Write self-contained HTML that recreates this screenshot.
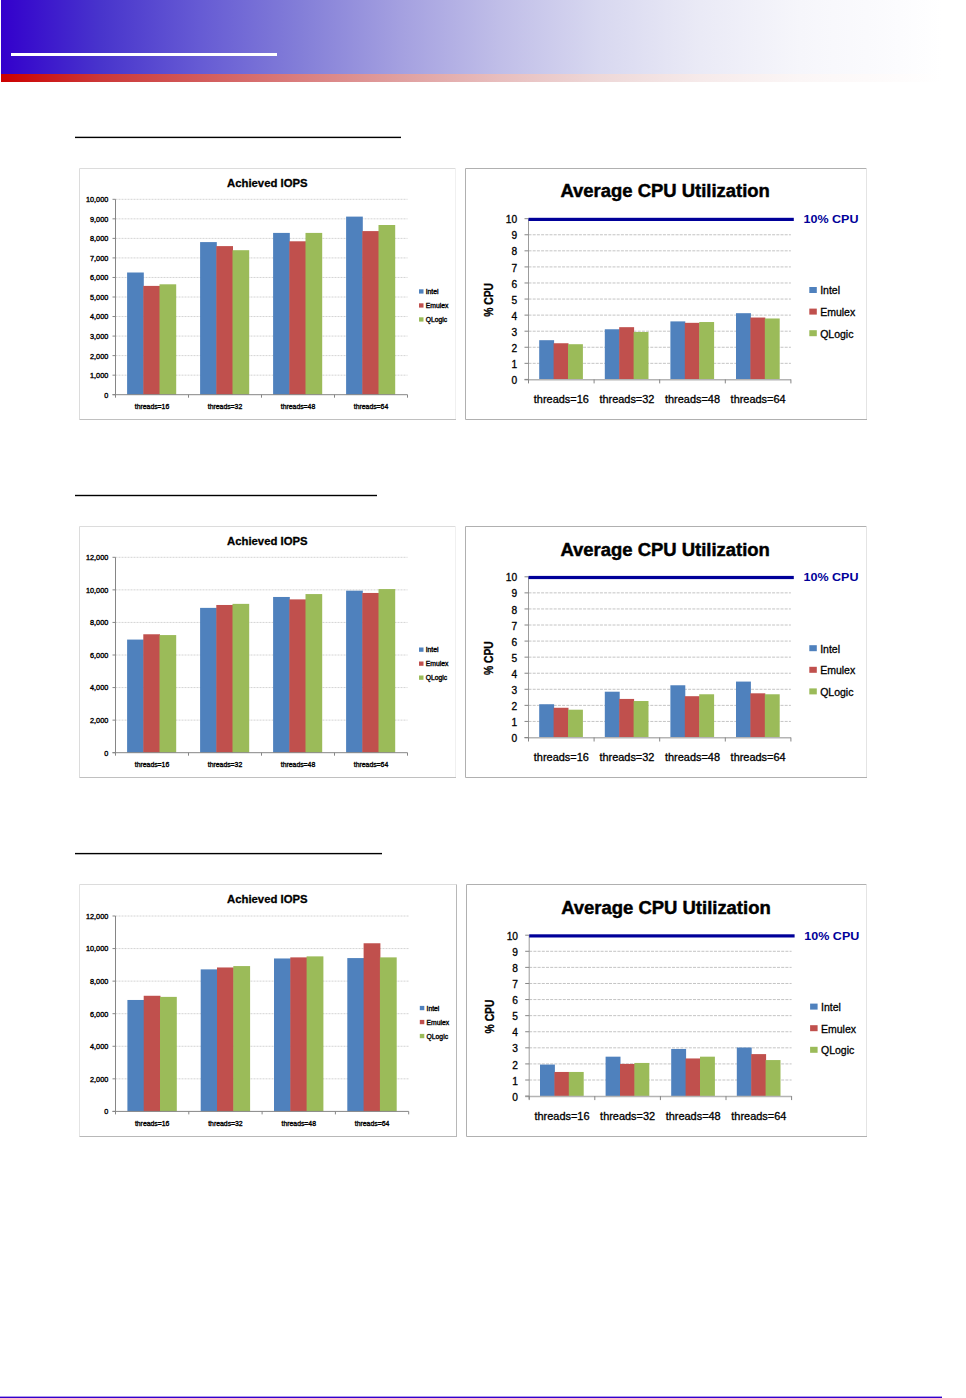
<!DOCTYPE html>
<html><head><meta charset="utf-8"><title>page</title>
<style>
html,body{margin:0;padding:0;background:#fff;}
body{width:966px;height:1398px;position:relative;overflow:hidden;font-family:"Liberation Sans",sans-serif;}
#hdr{position:absolute;left:1px;top:0;width:942px;height:74px;background:linear-gradient(to right,rgb(51,0,204) 0px,rgb(72,52,204) 99px,rgb(102,91,212) 199px,rgb(131,126,216) 299px,rgb(164,160,224) 399px,rgb(192,190,232) 499px,rgb(216,216,240) 599px,rgb(234,234,246) 699px,rgb(246,246,251) 799px,rgb(252,252,254) 899px,rgb(255,255,255) 941px);}
#hdr2{position:absolute;left:1px;top:74px;width:942px;height:8px;background:linear-gradient(to right,rgb(204,0,0) 0px,rgb(204,56,56) 99px,rgb(210,91,91) 199px,rgb(218,126,126) 299px,rgb(224,160,160) 399px,rgb(232,190,190) 499px,rgb(238,216,216) 599px,rgb(246,234,234) 699px,rgb(251,246,246) 799px,rgb(254,252,252) 899px,rgb(255,255,255) 941px);}
#wl{position:absolute;left:11px;top:53px;width:266px;height:3px;background:#fff;}
#foot{position:absolute;left:0;top:1396px;width:942px;height:1px;background:rgba(51,0,204,0.4);}
#foot2{position:absolute;left:0;top:1397px;width:942px;height:1px;background:#3300cc;}
svg{position:absolute;left:0;top:0;}
</style></head><body>
<div id="hdr"></div><div id="hdr2"></div><div id="wl"></div>
<svg width="966" height="1398" viewBox="0 0 966 1398">
<line x1="79.5" y1="168.5" x2="455.5" y2="168.5" stroke="#dcdcdc"/><line x1="79.5" y1="168.5" x2="79.5" y2="419.5" stroke="#dcdcdc"/><line x1="455.5" y1="168.5" x2="455.5" y2="419.5" stroke="#f0f0f0"/><line x1="79.5" y1="419.5" x2="456" y2="419.5" stroke="#c0c0c0"/>
<line x1="115.5" y1="375.16" x2="407.5" y2="375.16" stroke="#d4d4d4" stroke-width="1" stroke-dasharray="2 1"/>
<line x1="115.5" y1="355.62" x2="407.5" y2="355.62" stroke="#d4d4d4" stroke-width="1" stroke-dasharray="2 1"/>
<line x1="115.5" y1="336.08" x2="407.5" y2="336.08" stroke="#d4d4d4" stroke-width="1" stroke-dasharray="2 1"/>
<line x1="115.5" y1="316.54" x2="407.5" y2="316.54" stroke="#d4d4d4" stroke-width="1" stroke-dasharray="2 1"/>
<line x1="115.5" y1="297" x2="407.5" y2="297" stroke="#d4d4d4" stroke-width="1" stroke-dasharray="2 1"/>
<line x1="115.5" y1="277.46" x2="407.5" y2="277.46" stroke="#d4d4d4" stroke-width="1" stroke-dasharray="2 1"/>
<line x1="115.5" y1="257.92" x2="407.5" y2="257.92" stroke="#d4d4d4" stroke-width="1" stroke-dasharray="2 1"/>
<line x1="115.5" y1="238.38" x2="407.5" y2="238.38" stroke="#d4d4d4" stroke-width="1" stroke-dasharray="2 1"/>
<line x1="115.5" y1="218.84" x2="407.5" y2="218.84" stroke="#d4d4d4" stroke-width="1" stroke-dasharray="2 1"/>
<line x1="115.5" y1="199.3" x2="407.5" y2="199.3" stroke="#d4d4d4" stroke-width="1" stroke-dasharray="2 1"/>
<rect x="127.1" y="272.5" width="16.7" height="122.2" fill="#4f81bd"/>
<rect x="143.3" y="285.9" width="16.7" height="108.8" fill="#c0504d"/>
<rect x="159.5" y="284.3" width="16.7" height="110.4" fill="#9bbb59"/>
<rect x="200.1" y="242.09" width="16.7" height="152.61" fill="#4f81bd"/>
<rect x="216.3" y="246.1" width="16.7" height="148.6" fill="#c0504d"/>
<rect x="232.5" y="250.2" width="16.7" height="144.5" fill="#9bbb59"/>
<rect x="273.1" y="232.91" width="16.7" height="161.79" fill="#4f81bd"/>
<rect x="289.3" y="241.29" width="16.7" height="153.41" fill="#c0504d"/>
<rect x="305.5" y="232.91" width="16.7" height="161.79" fill="#9bbb59"/>
<rect x="346.1" y="216.61" width="16.7" height="178.09" fill="#4f81bd"/>
<rect x="362.3" y="231.09" width="16.7" height="163.61" fill="#c0504d"/>
<rect x="378.5" y="225" width="16.7" height="169.7" fill="#9bbb59"/>
<line x1="115.5" y1="199.3" x2="115.5" y2="394.7" stroke="#868686" stroke-width="1"/>
<line x1="112.5" y1="394.7" x2="407.5" y2="394.7" stroke="#868686" stroke-width="1"/>
<line x1="112.5" y1="394.7" x2="115.5" y2="394.7" stroke="#868686" stroke-width="1"/>
<text x="108.3" y="397.6" text-anchor="end" font-size="7.3" font-family="Liberation Sans, sans-serif" stroke="#000" stroke-width="0.35">0</text>
<line x1="112.5" y1="375.16" x2="115.5" y2="375.16" stroke="#868686" stroke-width="1"/>
<text x="108.3" y="378.06" text-anchor="end" font-size="7.3" font-family="Liberation Sans, sans-serif" stroke="#000" stroke-width="0.35">1,000</text>
<line x1="112.5" y1="355.62" x2="115.5" y2="355.62" stroke="#868686" stroke-width="1"/>
<text x="108.3" y="358.52" text-anchor="end" font-size="7.3" font-family="Liberation Sans, sans-serif" stroke="#000" stroke-width="0.35">2,000</text>
<line x1="112.5" y1="336.08" x2="115.5" y2="336.08" stroke="#868686" stroke-width="1"/>
<text x="108.3" y="338.98" text-anchor="end" font-size="7.3" font-family="Liberation Sans, sans-serif" stroke="#000" stroke-width="0.35">3,000</text>
<line x1="112.5" y1="316.54" x2="115.5" y2="316.54" stroke="#868686" stroke-width="1"/>
<text x="108.3" y="319.44" text-anchor="end" font-size="7.3" font-family="Liberation Sans, sans-serif" stroke="#000" stroke-width="0.35">4,000</text>
<line x1="112.5" y1="297" x2="115.5" y2="297" stroke="#868686" stroke-width="1"/>
<text x="108.3" y="299.9" text-anchor="end" font-size="7.3" font-family="Liberation Sans, sans-serif" stroke="#000" stroke-width="0.35">5,000</text>
<line x1="112.5" y1="277.46" x2="115.5" y2="277.46" stroke="#868686" stroke-width="1"/>
<text x="108.3" y="280.36" text-anchor="end" font-size="7.3" font-family="Liberation Sans, sans-serif" stroke="#000" stroke-width="0.35">6,000</text>
<line x1="112.5" y1="257.92" x2="115.5" y2="257.92" stroke="#868686" stroke-width="1"/>
<text x="108.3" y="260.82" text-anchor="end" font-size="7.3" font-family="Liberation Sans, sans-serif" stroke="#000" stroke-width="0.35">7,000</text>
<line x1="112.5" y1="238.38" x2="115.5" y2="238.38" stroke="#868686" stroke-width="1"/>
<text x="108.3" y="241.28" text-anchor="end" font-size="7.3" font-family="Liberation Sans, sans-serif" stroke="#000" stroke-width="0.35">8,000</text>
<line x1="112.5" y1="218.84" x2="115.5" y2="218.84" stroke="#868686" stroke-width="1"/>
<text x="108.3" y="221.74" text-anchor="end" font-size="7.3" font-family="Liberation Sans, sans-serif" stroke="#000" stroke-width="0.35">9,000</text>
<line x1="112.5" y1="199.3" x2="115.5" y2="199.3" stroke="#868686" stroke-width="1"/>
<text x="108.3" y="202.2" text-anchor="end" font-size="7.3" font-family="Liberation Sans, sans-serif" stroke="#000" stroke-width="0.35">10,000</text>
<line x1="115.5" y1="394.7" x2="115.5" y2="397.7" stroke="#868686" stroke-width="1"/>
<line x1="188.5" y1="394.7" x2="188.5" y2="397.7" stroke="#868686" stroke-width="1"/>
<line x1="261.5" y1="394.7" x2="261.5" y2="397.7" stroke="#868686" stroke-width="1"/>
<line x1="334.5" y1="394.7" x2="334.5" y2="397.7" stroke="#868686" stroke-width="1"/>
<line x1="407.5" y1="394.7" x2="407.5" y2="397.7" stroke="#868686" stroke-width="1"/>
<text x="152" y="409.2" text-anchor="middle" font-size="7.2" font-family="Liberation Sans, sans-serif" stroke="#000" stroke-width="0.35" textLength="34.5" lengthAdjust="spacingAndGlyphs">threads=16</text>
<text x="225" y="409.2" text-anchor="middle" font-size="7.2" font-family="Liberation Sans, sans-serif" stroke="#000" stroke-width="0.35" textLength="34.5" lengthAdjust="spacingAndGlyphs">threads=32</text>
<text x="298" y="409.2" text-anchor="middle" font-size="7.2" font-family="Liberation Sans, sans-serif" stroke="#000" stroke-width="0.35" textLength="34.5" lengthAdjust="spacingAndGlyphs">threads=48</text>
<text x="371" y="409.2" text-anchor="middle" font-size="7.2" font-family="Liberation Sans, sans-serif" stroke="#000" stroke-width="0.35" textLength="34.5" lengthAdjust="spacingAndGlyphs">threads=64</text>
<text x="267.3" y="186.5" text-anchor="middle" font-size="11.5" font-weight="bold" font-family="Liberation Sans, sans-serif" stroke="#000" stroke-width="0.3" textLength="80.5" lengthAdjust="spacingAndGlyphs">Achieved IOPS</text>
<rect x="419" y="289.3" width="4.5" height="4.3" fill="#4f81bd"/>
<text x="425.7" y="293.9" font-size="6.8" font-family="Liberation Sans, sans-serif" stroke="#000" stroke-width="0.35">Intel</text>
<rect x="419" y="303.3" width="4.5" height="4.3" fill="#c0504d"/>
<text x="425.7" y="307.9" font-size="6.8" font-family="Liberation Sans, sans-serif" stroke="#000" stroke-width="0.35">Emulex</text>
<rect x="419" y="317.3" width="4.5" height="4.3" fill="#9bbb59"/>
<text x="425.7" y="321.9" font-size="6.8" font-family="Liberation Sans, sans-serif" stroke="#000" stroke-width="0.35">QLogic</text>
<line x1="79.5" y1="526.5" x2="455.5" y2="526.5" stroke="#dcdcdc"/><line x1="79.5" y1="526.5" x2="79.5" y2="777.5" stroke="#dcdcdc"/><line x1="455.5" y1="526.5" x2="455.5" y2="777.5" stroke="#f0f0f0"/><line x1="79.5" y1="777.5" x2="456" y2="777.5" stroke="#c0c0c0"/>
<line x1="115.5" y1="720.13" x2="407.5" y2="720.13" stroke="#d4d4d4" stroke-width="1" stroke-dasharray="2 1"/>
<line x1="115.5" y1="687.57" x2="407.5" y2="687.57" stroke="#d4d4d4" stroke-width="1" stroke-dasharray="2 1"/>
<line x1="115.5" y1="655" x2="407.5" y2="655" stroke="#d4d4d4" stroke-width="1" stroke-dasharray="2 1"/>
<line x1="115.5" y1="622.43" x2="407.5" y2="622.43" stroke="#d4d4d4" stroke-width="1" stroke-dasharray="2 1"/>
<line x1="115.5" y1="589.87" x2="407.5" y2="589.87" stroke="#d4d4d4" stroke-width="1" stroke-dasharray="2 1"/>
<line x1="115.5" y1="557.3" x2="407.5" y2="557.3" stroke="#d4d4d4" stroke-width="1" stroke-dasharray="2 1"/>
<rect x="127.1" y="639.58" width="16.7" height="113.12" fill="#4f81bd"/>
<rect x="143.3" y="634.27" width="16.7" height="118.43" fill="#c0504d"/>
<rect x="159.5" y="635.07" width="16.7" height="117.63" fill="#9bbb59"/>
<rect x="200.1" y="607.88" width="16.7" height="144.82" fill="#4f81bd"/>
<rect x="216.3" y="604.98" width="16.7" height="147.72" fill="#c0504d"/>
<rect x="232.5" y="603.87" width="16.7" height="148.83" fill="#9bbb59"/>
<rect x="273.1" y="596.97" width="16.7" height="155.73" fill="#4f81bd"/>
<rect x="289.3" y="599.38" width="16.7" height="153.32" fill="#c0504d"/>
<rect x="305.5" y="594.07" width="16.7" height="158.63" fill="#9bbb59"/>
<rect x="346.1" y="590.66" width="16.7" height="162.04" fill="#4f81bd"/>
<rect x="362.3" y="592.96" width="16.7" height="159.74" fill="#c0504d"/>
<rect x="378.5" y="589.07" width="16.7" height="163.63" fill="#9bbb59"/>
<line x1="115.5" y1="557.3" x2="115.5" y2="752.7" stroke="#868686" stroke-width="1"/>
<line x1="112.5" y1="752.7" x2="407.5" y2="752.7" stroke="#868686" stroke-width="1"/>
<line x1="112.5" y1="752.7" x2="115.5" y2="752.7" stroke="#868686" stroke-width="1"/>
<text x="108.3" y="755.6" text-anchor="end" font-size="7.3" font-family="Liberation Sans, sans-serif" stroke="#000" stroke-width="0.35">0</text>
<line x1="112.5" y1="720.13" x2="115.5" y2="720.13" stroke="#868686" stroke-width="1"/>
<text x="108.3" y="723.03" text-anchor="end" font-size="7.3" font-family="Liberation Sans, sans-serif" stroke="#000" stroke-width="0.35">2,000</text>
<line x1="112.5" y1="687.57" x2="115.5" y2="687.57" stroke="#868686" stroke-width="1"/>
<text x="108.3" y="690.47" text-anchor="end" font-size="7.3" font-family="Liberation Sans, sans-serif" stroke="#000" stroke-width="0.35">4,000</text>
<line x1="112.5" y1="655" x2="115.5" y2="655" stroke="#868686" stroke-width="1"/>
<text x="108.3" y="657.9" text-anchor="end" font-size="7.3" font-family="Liberation Sans, sans-serif" stroke="#000" stroke-width="0.35">6,000</text>
<line x1="112.5" y1="622.43" x2="115.5" y2="622.43" stroke="#868686" stroke-width="1"/>
<text x="108.3" y="625.33" text-anchor="end" font-size="7.3" font-family="Liberation Sans, sans-serif" stroke="#000" stroke-width="0.35">8,000</text>
<line x1="112.5" y1="589.87" x2="115.5" y2="589.87" stroke="#868686" stroke-width="1"/>
<text x="108.3" y="592.77" text-anchor="end" font-size="7.3" font-family="Liberation Sans, sans-serif" stroke="#000" stroke-width="0.35">10,000</text>
<line x1="112.5" y1="557.3" x2="115.5" y2="557.3" stroke="#868686" stroke-width="1"/>
<text x="108.3" y="560.2" text-anchor="end" font-size="7.3" font-family="Liberation Sans, sans-serif" stroke="#000" stroke-width="0.35">12,000</text>
<line x1="115.5" y1="752.7" x2="115.5" y2="755.7" stroke="#868686" stroke-width="1"/>
<line x1="188.5" y1="752.7" x2="188.5" y2="755.7" stroke="#868686" stroke-width="1"/>
<line x1="261.5" y1="752.7" x2="261.5" y2="755.7" stroke="#868686" stroke-width="1"/>
<line x1="334.5" y1="752.7" x2="334.5" y2="755.7" stroke="#868686" stroke-width="1"/>
<line x1="407.5" y1="752.7" x2="407.5" y2="755.7" stroke="#868686" stroke-width="1"/>
<text x="152" y="767.2" text-anchor="middle" font-size="7.2" font-family="Liberation Sans, sans-serif" stroke="#000" stroke-width="0.35" textLength="34.5" lengthAdjust="spacingAndGlyphs">threads=16</text>
<text x="225" y="767.2" text-anchor="middle" font-size="7.2" font-family="Liberation Sans, sans-serif" stroke="#000" stroke-width="0.35" textLength="34.5" lengthAdjust="spacingAndGlyphs">threads=32</text>
<text x="298" y="767.2" text-anchor="middle" font-size="7.2" font-family="Liberation Sans, sans-serif" stroke="#000" stroke-width="0.35" textLength="34.5" lengthAdjust="spacingAndGlyphs">threads=48</text>
<text x="371" y="767.2" text-anchor="middle" font-size="7.2" font-family="Liberation Sans, sans-serif" stroke="#000" stroke-width="0.35" textLength="34.5" lengthAdjust="spacingAndGlyphs">threads=64</text>
<text x="267.3" y="544.7" text-anchor="middle" font-size="11.5" font-weight="bold" font-family="Liberation Sans, sans-serif" stroke="#000" stroke-width="0.3" textLength="80.5" lengthAdjust="spacingAndGlyphs">Achieved IOPS</text>
<rect x="419" y="647.5" width="4.5" height="4.3" fill="#4f81bd"/>
<text x="425.7" y="652.1" font-size="6.8" font-family="Liberation Sans, sans-serif" stroke="#000" stroke-width="0.35">Intel</text>
<rect x="419" y="661.5" width="4.5" height="4.3" fill="#c0504d"/>
<text x="425.7" y="666.1" font-size="6.8" font-family="Liberation Sans, sans-serif" stroke="#000" stroke-width="0.35">Emulex</text>
<rect x="419" y="675.5" width="4.5" height="4.3" fill="#9bbb59"/>
<text x="425.7" y="680.1" font-size="6.8" font-family="Liberation Sans, sans-serif" stroke="#000" stroke-width="0.35">QLogic</text>
<line x1="79.5" y1="884.5" x2="456.5" y2="884.5" stroke="#dcdcdc"/><line x1="79.5" y1="884.5" x2="79.5" y2="1136.5" stroke="#e4e4e4"/><line x1="456.5" y1="884.5" x2="456.5" y2="1136.5" stroke="#b8b8b8"/><line x1="79.5" y1="1136.5" x2="457" y2="1136.5" stroke="#b8b8b8"/>
<line x1="115.5" y1="1078.83" x2="408.7" y2="1078.83" stroke="#d4d4d4" stroke-width="1" stroke-dasharray="2 1"/>
<line x1="115.5" y1="1046.27" x2="408.7" y2="1046.27" stroke="#d4d4d4" stroke-width="1" stroke-dasharray="2 1"/>
<line x1="115.5" y1="1013.7" x2="408.7" y2="1013.7" stroke="#d4d4d4" stroke-width="1" stroke-dasharray="2 1"/>
<line x1="115.5" y1="981.13" x2="408.7" y2="981.13" stroke="#d4d4d4" stroke-width="1" stroke-dasharray="2 1"/>
<line x1="115.5" y1="948.57" x2="408.7" y2="948.57" stroke="#d4d4d4" stroke-width="1" stroke-dasharray="2 1"/>
<line x1="115.5" y1="916" x2="408.7" y2="916" stroke="#d4d4d4" stroke-width="1" stroke-dasharray="2 1"/>
<rect x="127.4" y="999.97" width="16.8" height="111.43" fill="#4f81bd"/>
<rect x="143.7" y="995.77" width="16.8" height="115.63" fill="#c0504d"/>
<rect x="160" y="996.88" width="16.8" height="114.52" fill="#9bbb59"/>
<rect x="200.7" y="969.38" width="16.8" height="142.02" fill="#4f81bd"/>
<rect x="217" y="967.47" width="16.8" height="143.93" fill="#c0504d"/>
<rect x="233.3" y="966.07" width="16.8" height="145.33" fill="#9bbb59"/>
<rect x="274" y="958.47" width="16.8" height="152.93" fill="#4f81bd"/>
<rect x="290.3" y="957.38" width="16.8" height="154.02" fill="#c0504d"/>
<rect x="306.6" y="956.37" width="16.8" height="155.03" fill="#9bbb59"/>
<rect x="347.3" y="958.08" width="16.8" height="153.32" fill="#4f81bd"/>
<rect x="363.6" y="943.26" width="16.8" height="168.14" fill="#c0504d"/>
<rect x="379.9" y="957.38" width="16.8" height="154.02" fill="#9bbb59"/>
<line x1="115.5" y1="916" x2="115.5" y2="1111.4" stroke="#868686" stroke-width="1"/>
<line x1="112.5" y1="1111.4" x2="408.7" y2="1111.4" stroke="#868686" stroke-width="1"/>
<line x1="112.5" y1="1111.4" x2="115.5" y2="1111.4" stroke="#868686" stroke-width="1"/>
<text x="108.3" y="1114.3" text-anchor="end" font-size="7.3" font-family="Liberation Sans, sans-serif" stroke="#000" stroke-width="0.35">0</text>
<line x1="112.5" y1="1078.83" x2="115.5" y2="1078.83" stroke="#868686" stroke-width="1"/>
<text x="108.3" y="1081.73" text-anchor="end" font-size="7.3" font-family="Liberation Sans, sans-serif" stroke="#000" stroke-width="0.35">2,000</text>
<line x1="112.5" y1="1046.27" x2="115.5" y2="1046.27" stroke="#868686" stroke-width="1"/>
<text x="108.3" y="1049.17" text-anchor="end" font-size="7.3" font-family="Liberation Sans, sans-serif" stroke="#000" stroke-width="0.35">4,000</text>
<line x1="112.5" y1="1013.7" x2="115.5" y2="1013.7" stroke="#868686" stroke-width="1"/>
<text x="108.3" y="1016.6" text-anchor="end" font-size="7.3" font-family="Liberation Sans, sans-serif" stroke="#000" stroke-width="0.35">6,000</text>
<line x1="112.5" y1="981.13" x2="115.5" y2="981.13" stroke="#868686" stroke-width="1"/>
<text x="108.3" y="984.03" text-anchor="end" font-size="7.3" font-family="Liberation Sans, sans-serif" stroke="#000" stroke-width="0.35">8,000</text>
<line x1="112.5" y1="948.57" x2="115.5" y2="948.57" stroke="#868686" stroke-width="1"/>
<text x="108.3" y="951.47" text-anchor="end" font-size="7.3" font-family="Liberation Sans, sans-serif" stroke="#000" stroke-width="0.35">10,000</text>
<line x1="112.5" y1="916" x2="115.5" y2="916" stroke="#868686" stroke-width="1"/>
<text x="108.3" y="918.9" text-anchor="end" font-size="7.3" font-family="Liberation Sans, sans-serif" stroke="#000" stroke-width="0.35">12,000</text>
<line x1="115.5" y1="1111.4" x2="115.5" y2="1114.4" stroke="#868686" stroke-width="1"/>
<line x1="188.8" y1="1111.4" x2="188.8" y2="1114.4" stroke="#868686" stroke-width="1"/>
<line x1="262.1" y1="1111.4" x2="262.1" y2="1114.4" stroke="#868686" stroke-width="1"/>
<line x1="335.4" y1="1111.4" x2="335.4" y2="1114.4" stroke="#868686" stroke-width="1"/>
<line x1="408.7" y1="1111.4" x2="408.7" y2="1114.4" stroke="#868686" stroke-width="1"/>
<text x="152.15" y="1125.9" text-anchor="middle" font-size="7.2" font-family="Liberation Sans, sans-serif" stroke="#000" stroke-width="0.35" textLength="34.5" lengthAdjust="spacingAndGlyphs">threads=16</text>
<text x="225.45" y="1125.9" text-anchor="middle" font-size="7.2" font-family="Liberation Sans, sans-serif" stroke="#000" stroke-width="0.35" textLength="34.5" lengthAdjust="spacingAndGlyphs">threads=32</text>
<text x="298.75" y="1125.9" text-anchor="middle" font-size="7.2" font-family="Liberation Sans, sans-serif" stroke="#000" stroke-width="0.35" textLength="34.5" lengthAdjust="spacingAndGlyphs">threads=48</text>
<text x="372.05" y="1125.9" text-anchor="middle" font-size="7.2" font-family="Liberation Sans, sans-serif" stroke="#000" stroke-width="0.35" textLength="34.5" lengthAdjust="spacingAndGlyphs">threads=64</text>
<text x="267.3" y="903.1" text-anchor="middle" font-size="11.5" font-weight="bold" font-family="Liberation Sans, sans-serif" stroke="#000" stroke-width="0.3" textLength="80.5" lengthAdjust="spacingAndGlyphs">Achieved IOPS</text>
<rect x="419.8" y="1005.9" width="4.5" height="4.3" fill="#4f81bd"/>
<text x="426.5" y="1010.5" font-size="6.8" font-family="Liberation Sans, sans-serif" stroke="#000" stroke-width="0.35">Intel</text>
<rect x="419.8" y="1019.9" width="4.5" height="4.3" fill="#c0504d"/>
<text x="426.5" y="1024.5" font-size="6.8" font-family="Liberation Sans, sans-serif" stroke="#000" stroke-width="0.35">Emulex</text>
<rect x="419.8" y="1033.9" width="4.5" height="4.3" fill="#9bbb59"/>
<text x="426.5" y="1038.5" font-size="6.8" font-family="Liberation Sans, sans-serif" stroke="#000" stroke-width="0.35">QLogic</text>
<line x1="465.5" y1="168.5" x2="866.5" y2="168.5" stroke="#b0b0b0"/><line x1="465.5" y1="168.5" x2="465.5" y2="419.5" stroke="#b0b0b0"/><line x1="866.5" y1="168.5" x2="866.5" y2="419.5" stroke="#e4e4e4"/><line x1="465.5" y1="419.5" x2="867" y2="419.5" stroke="#b0b0b0"/>
<line x1="528.5" y1="363.33" x2="790.9" y2="363.33" stroke="#c4c4c4" stroke-width="1" stroke-dasharray="3 1.2"/>
<line x1="528.5" y1="347.26" x2="790.9" y2="347.26" stroke="#c4c4c4" stroke-width="1" stroke-dasharray="3 1.2"/>
<line x1="528.5" y1="331.19" x2="790.9" y2="331.19" stroke="#c4c4c4" stroke-width="1" stroke-dasharray="3 1.2"/>
<line x1="528.5" y1="315.12" x2="790.9" y2="315.12" stroke="#c4c4c4" stroke-width="1" stroke-dasharray="3 1.2"/>
<line x1="528.5" y1="299.05" x2="790.9" y2="299.05" stroke="#c4c4c4" stroke-width="1" stroke-dasharray="3 1.2"/>
<line x1="528.5" y1="282.98" x2="790.9" y2="282.98" stroke="#c4c4c4" stroke-width="1" stroke-dasharray="3 1.2"/>
<line x1="528.5" y1="266.91" x2="790.9" y2="266.91" stroke="#c4c4c4" stroke-width="1" stroke-dasharray="3 1.2"/>
<line x1="528.5" y1="250.84" x2="790.9" y2="250.84" stroke="#c4c4c4" stroke-width="1" stroke-dasharray="3 1.2"/>
<line x1="528.5" y1="234.77" x2="790.9" y2="234.77" stroke="#c4c4c4" stroke-width="1" stroke-dasharray="3 1.2"/>
<rect x="539.2" y="340.19" width="14.9" height="39.21" fill="#4f81bd"/>
<rect x="553.6" y="343.24" width="14.9" height="36.16" fill="#c0504d"/>
<rect x="568" y="344.21" width="14.9" height="35.19" fill="#9bbb59"/>
<rect x="604.8" y="329.26" width="14.9" height="50.14" fill="#4f81bd"/>
<rect x="619.2" y="327.17" width="14.9" height="52.23" fill="#c0504d"/>
<rect x="633.6" y="331.99" width="14.9" height="47.41" fill="#9bbb59"/>
<rect x="670.4" y="321.39" width="14.9" height="58.01" fill="#4f81bd"/>
<rect x="684.8" y="322.83" width="14.9" height="56.57" fill="#c0504d"/>
<rect x="699.2" y="322.03" width="14.9" height="57.37" fill="#9bbb59"/>
<rect x="736" y="313.19" width="14.9" height="66.21" fill="#4f81bd"/>
<rect x="750.4" y="317.53" width="14.9" height="61.87" fill="#c0504d"/>
<rect x="764.8" y="318.49" width="14.9" height="60.91" fill="#9bbb59"/>
<line x1="524.5" y1="379.7" x2="790.9" y2="379.7" stroke="#b4b4b4" stroke-width="1.5"/>
<line x1="528.5" y1="218.7" x2="528.5" y2="382.4" stroke="#9c9c9c" stroke-width="1"/>
<line x1="524.5" y1="379.4" x2="528.5" y2="379.4" stroke="#868686" stroke-width="1"/>
<text x="517.2" y="384" text-anchor="end" font-size="10.2" font-family="Liberation Sans, sans-serif" stroke="#000" stroke-width="0.3">0</text>
<line x1="524.5" y1="363.33" x2="528.5" y2="363.33" stroke="#868686" stroke-width="1"/>
<text x="517.2" y="367.93" text-anchor="end" font-size="10.2" font-family="Liberation Sans, sans-serif" stroke="#000" stroke-width="0.3">1</text>
<line x1="524.5" y1="347.26" x2="528.5" y2="347.26" stroke="#868686" stroke-width="1"/>
<text x="517.2" y="351.86" text-anchor="end" font-size="10.2" font-family="Liberation Sans, sans-serif" stroke="#000" stroke-width="0.3">2</text>
<line x1="524.5" y1="331.19" x2="528.5" y2="331.19" stroke="#868686" stroke-width="1"/>
<text x="517.2" y="335.79" text-anchor="end" font-size="10.2" font-family="Liberation Sans, sans-serif" stroke="#000" stroke-width="0.3">3</text>
<line x1="524.5" y1="315.12" x2="528.5" y2="315.12" stroke="#868686" stroke-width="1"/>
<text x="517.2" y="319.72" text-anchor="end" font-size="10.2" font-family="Liberation Sans, sans-serif" stroke="#000" stroke-width="0.3">4</text>
<line x1="524.5" y1="299.05" x2="528.5" y2="299.05" stroke="#868686" stroke-width="1"/>
<text x="517.2" y="303.65" text-anchor="end" font-size="10.2" font-family="Liberation Sans, sans-serif" stroke="#000" stroke-width="0.3">5</text>
<line x1="524.5" y1="282.98" x2="528.5" y2="282.98" stroke="#868686" stroke-width="1"/>
<text x="517.2" y="287.58" text-anchor="end" font-size="10.2" font-family="Liberation Sans, sans-serif" stroke="#000" stroke-width="0.3">6</text>
<line x1="524.5" y1="266.91" x2="528.5" y2="266.91" stroke="#868686" stroke-width="1"/>
<text x="517.2" y="271.51" text-anchor="end" font-size="10.2" font-family="Liberation Sans, sans-serif" stroke="#000" stroke-width="0.3">7</text>
<line x1="524.5" y1="250.84" x2="528.5" y2="250.84" stroke="#868686" stroke-width="1"/>
<text x="517.2" y="255.44" text-anchor="end" font-size="10.2" font-family="Liberation Sans, sans-serif" stroke="#000" stroke-width="0.3">8</text>
<line x1="524.5" y1="234.77" x2="528.5" y2="234.77" stroke="#868686" stroke-width="1"/>
<text x="517.2" y="239.37" text-anchor="end" font-size="10.2" font-family="Liberation Sans, sans-serif" stroke="#000" stroke-width="0.3">9</text>
<line x1="524.5" y1="218.7" x2="528.5" y2="218.7" stroke="#868686" stroke-width="1"/>
<text x="517.2" y="223.3" text-anchor="end" font-size="10.2" font-family="Liberation Sans, sans-serif" stroke="#000" stroke-width="0.3">10</text>
<line x1="528.5" y1="379.4" x2="528.5" y2="383.4" stroke="#868686" stroke-width="1"/>
<line x1="594.1" y1="379.4" x2="594.1" y2="383.4" stroke="#868686" stroke-width="1"/>
<line x1="659.7" y1="379.4" x2="659.7" y2="383.4" stroke="#868686" stroke-width="1"/>
<line x1="725.3" y1="379.4" x2="725.3" y2="383.4" stroke="#868686" stroke-width="1"/>
<line x1="790.9" y1="379.4" x2="790.9" y2="383.4" stroke="#868686" stroke-width="1"/>
<text x="561.3" y="403" text-anchor="middle" font-size="10.5" font-family="Liberation Sans, sans-serif" stroke="#000" stroke-width="0.3" textLength="55" lengthAdjust="spacingAndGlyphs">threads=16</text>
<text x="626.9" y="403" text-anchor="middle" font-size="10.5" font-family="Liberation Sans, sans-serif" stroke="#000" stroke-width="0.3" textLength="55" lengthAdjust="spacingAndGlyphs">threads=32</text>
<text x="692.5" y="403" text-anchor="middle" font-size="10.5" font-family="Liberation Sans, sans-serif" stroke="#000" stroke-width="0.3" textLength="55" lengthAdjust="spacingAndGlyphs">threads=48</text>
<text x="758.1" y="403" text-anchor="middle" font-size="10.5" font-family="Liberation Sans, sans-serif" stroke="#000" stroke-width="0.3" textLength="55" lengthAdjust="spacingAndGlyphs">threads=64</text>
<rect x="528.5" y="217.8" width="265.3" height="3.2" fill="#000099"/>
<text x="803.5" y="223.1" font-size="11" font-weight="bold" fill="#000099" font-family="Liberation Sans, sans-serif" textLength="55" lengthAdjust="spacingAndGlyphs">10% CPU</text>
<text x="560.4" y="197.3" font-size="18" font-weight="bold" font-family="Liberation Sans, sans-serif" stroke="#000" stroke-width="0.45" textLength="209.5" lengthAdjust="spacingAndGlyphs">Average CPU Utilization</text>
<text transform="translate(492.9,299.9) rotate(-90)" text-anchor="middle" font-size="12.5" font-weight="bold" font-family="Liberation Sans, sans-serif" stroke="#000" stroke-width="0.3" textLength="33.8" lengthAdjust="spacingAndGlyphs">% CPU</text>
<rect x="809.3" y="287" width="7.5" height="6" fill="#4f81bd"/>
<text x="820.2" y="294.4" font-size="10.5" font-family="Liberation Sans, sans-serif" stroke="#000" stroke-width="0.3">Intel</text>
<rect x="809.3" y="308.6" width="7.5" height="6" fill="#c0504d"/>
<text x="820.2" y="316" font-size="10.5" font-family="Liberation Sans, sans-serif" stroke="#000" stroke-width="0.3">Emulex</text>
<rect x="809.3" y="330.2" width="7.5" height="6" fill="#9bbb59"/>
<text x="820.2" y="337.6" font-size="10.5" font-family="Liberation Sans, sans-serif" stroke="#000" stroke-width="0.3">QLogic</text>
<line x1="465.5" y1="526.5" x2="866.5" y2="526.5" stroke="#b0b0b0"/><line x1="465.5" y1="526.5" x2="465.5" y2="777.5" stroke="#b0b0b0"/><line x1="866.5" y1="526.5" x2="866.5" y2="777.5" stroke="#e4e4e4"/><line x1="465.5" y1="777.5" x2="867" y2="777.5" stroke="#b0b0b0"/>
<line x1="528.5" y1="721.43" x2="790.9" y2="721.43" stroke="#c4c4c4" stroke-width="1" stroke-dasharray="3 1.2"/>
<line x1="528.5" y1="705.36" x2="790.9" y2="705.36" stroke="#c4c4c4" stroke-width="1" stroke-dasharray="3 1.2"/>
<line x1="528.5" y1="689.29" x2="790.9" y2="689.29" stroke="#c4c4c4" stroke-width="1" stroke-dasharray="3 1.2"/>
<line x1="528.5" y1="673.22" x2="790.9" y2="673.22" stroke="#c4c4c4" stroke-width="1" stroke-dasharray="3 1.2"/>
<line x1="528.5" y1="657.15" x2="790.9" y2="657.15" stroke="#c4c4c4" stroke-width="1" stroke-dasharray="3 1.2"/>
<line x1="528.5" y1="641.08" x2="790.9" y2="641.08" stroke="#c4c4c4" stroke-width="1" stroke-dasharray="3 1.2"/>
<line x1="528.5" y1="625.01" x2="790.9" y2="625.01" stroke="#c4c4c4" stroke-width="1" stroke-dasharray="3 1.2"/>
<line x1="528.5" y1="608.94" x2="790.9" y2="608.94" stroke="#c4c4c4" stroke-width="1" stroke-dasharray="3 1.2"/>
<line x1="528.5" y1="592.87" x2="790.9" y2="592.87" stroke="#c4c4c4" stroke-width="1" stroke-dasharray="3 1.2"/>
<rect x="539.2" y="704.24" width="14.9" height="33.26" fill="#4f81bd"/>
<rect x="553.6" y="707.77" width="14.9" height="29.73" fill="#c0504d"/>
<rect x="568" y="709.7" width="14.9" height="27.8" fill="#9bbb59"/>
<rect x="604.8" y="691.7" width="14.9" height="45.8" fill="#4f81bd"/>
<rect x="619.2" y="698.93" width="14.9" height="38.57" fill="#c0504d"/>
<rect x="633.6" y="701.02" width="14.9" height="36.48" fill="#9bbb59"/>
<rect x="670.4" y="685.27" width="14.9" height="52.23" fill="#4f81bd"/>
<rect x="684.8" y="696.2" width="14.9" height="41.3" fill="#c0504d"/>
<rect x="699.2" y="694.27" width="14.9" height="43.23" fill="#9bbb59"/>
<rect x="736" y="681.58" width="14.9" height="55.92" fill="#4f81bd"/>
<rect x="750.4" y="693.31" width="14.9" height="44.19" fill="#c0504d"/>
<rect x="764.8" y="694.27" width="14.9" height="43.23" fill="#9bbb59"/>
<line x1="524.5" y1="737.8" x2="790.9" y2="737.8" stroke="#b4b4b4" stroke-width="1.5"/>
<line x1="528.5" y1="576.8" x2="528.5" y2="740.5" stroke="#9c9c9c" stroke-width="1"/>
<line x1="524.5" y1="737.5" x2="528.5" y2="737.5" stroke="#868686" stroke-width="1"/>
<text x="517.2" y="742.1" text-anchor="end" font-size="10.2" font-family="Liberation Sans, sans-serif" stroke="#000" stroke-width="0.3">0</text>
<line x1="524.5" y1="721.43" x2="528.5" y2="721.43" stroke="#868686" stroke-width="1"/>
<text x="517.2" y="726.03" text-anchor="end" font-size="10.2" font-family="Liberation Sans, sans-serif" stroke="#000" stroke-width="0.3">1</text>
<line x1="524.5" y1="705.36" x2="528.5" y2="705.36" stroke="#868686" stroke-width="1"/>
<text x="517.2" y="709.96" text-anchor="end" font-size="10.2" font-family="Liberation Sans, sans-serif" stroke="#000" stroke-width="0.3">2</text>
<line x1="524.5" y1="689.29" x2="528.5" y2="689.29" stroke="#868686" stroke-width="1"/>
<text x="517.2" y="693.89" text-anchor="end" font-size="10.2" font-family="Liberation Sans, sans-serif" stroke="#000" stroke-width="0.3">3</text>
<line x1="524.5" y1="673.22" x2="528.5" y2="673.22" stroke="#868686" stroke-width="1"/>
<text x="517.2" y="677.82" text-anchor="end" font-size="10.2" font-family="Liberation Sans, sans-serif" stroke="#000" stroke-width="0.3">4</text>
<line x1="524.5" y1="657.15" x2="528.5" y2="657.15" stroke="#868686" stroke-width="1"/>
<text x="517.2" y="661.75" text-anchor="end" font-size="10.2" font-family="Liberation Sans, sans-serif" stroke="#000" stroke-width="0.3">5</text>
<line x1="524.5" y1="641.08" x2="528.5" y2="641.08" stroke="#868686" stroke-width="1"/>
<text x="517.2" y="645.68" text-anchor="end" font-size="10.2" font-family="Liberation Sans, sans-serif" stroke="#000" stroke-width="0.3">6</text>
<line x1="524.5" y1="625.01" x2="528.5" y2="625.01" stroke="#868686" stroke-width="1"/>
<text x="517.2" y="629.61" text-anchor="end" font-size="10.2" font-family="Liberation Sans, sans-serif" stroke="#000" stroke-width="0.3">7</text>
<line x1="524.5" y1="608.94" x2="528.5" y2="608.94" stroke="#868686" stroke-width="1"/>
<text x="517.2" y="613.54" text-anchor="end" font-size="10.2" font-family="Liberation Sans, sans-serif" stroke="#000" stroke-width="0.3">8</text>
<line x1="524.5" y1="592.87" x2="528.5" y2="592.87" stroke="#868686" stroke-width="1"/>
<text x="517.2" y="597.47" text-anchor="end" font-size="10.2" font-family="Liberation Sans, sans-serif" stroke="#000" stroke-width="0.3">9</text>
<line x1="524.5" y1="576.8" x2="528.5" y2="576.8" stroke="#868686" stroke-width="1"/>
<text x="517.2" y="581.4" text-anchor="end" font-size="10.2" font-family="Liberation Sans, sans-serif" stroke="#000" stroke-width="0.3">10</text>
<line x1="528.5" y1="737.5" x2="528.5" y2="741.5" stroke="#868686" stroke-width="1"/>
<line x1="594.1" y1="737.5" x2="594.1" y2="741.5" stroke="#868686" stroke-width="1"/>
<line x1="659.7" y1="737.5" x2="659.7" y2="741.5" stroke="#868686" stroke-width="1"/>
<line x1="725.3" y1="737.5" x2="725.3" y2="741.5" stroke="#868686" stroke-width="1"/>
<line x1="790.9" y1="737.5" x2="790.9" y2="741.5" stroke="#868686" stroke-width="1"/>
<text x="561.3" y="761.1" text-anchor="middle" font-size="10.5" font-family="Liberation Sans, sans-serif" stroke="#000" stroke-width="0.3" textLength="55" lengthAdjust="spacingAndGlyphs">threads=16</text>
<text x="626.9" y="761.1" text-anchor="middle" font-size="10.5" font-family="Liberation Sans, sans-serif" stroke="#000" stroke-width="0.3" textLength="55" lengthAdjust="spacingAndGlyphs">threads=32</text>
<text x="692.5" y="761.1" text-anchor="middle" font-size="10.5" font-family="Liberation Sans, sans-serif" stroke="#000" stroke-width="0.3" textLength="55" lengthAdjust="spacingAndGlyphs">threads=48</text>
<text x="758.1" y="761.1" text-anchor="middle" font-size="10.5" font-family="Liberation Sans, sans-serif" stroke="#000" stroke-width="0.3" textLength="55" lengthAdjust="spacingAndGlyphs">threads=64</text>
<rect x="528.5" y="575.9" width="265.3" height="3.2" fill="#000099"/>
<text x="803.5" y="581.3" font-size="11" font-weight="bold" fill="#000099" font-family="Liberation Sans, sans-serif" textLength="55" lengthAdjust="spacingAndGlyphs">10% CPU</text>
<text x="560.4" y="555.5" font-size="18" font-weight="bold" font-family="Liberation Sans, sans-serif" stroke="#000" stroke-width="0.45" textLength="209.5" lengthAdjust="spacingAndGlyphs">Average CPU Utilization</text>
<text transform="translate(492.9,658.1) rotate(-90)" text-anchor="middle" font-size="12.5" font-weight="bold" font-family="Liberation Sans, sans-serif" stroke="#000" stroke-width="0.3" textLength="33.8" lengthAdjust="spacingAndGlyphs">% CPU</text>
<rect x="809.3" y="645.2" width="7.5" height="6" fill="#4f81bd"/>
<text x="820.2" y="652.6" font-size="10.5" font-family="Liberation Sans, sans-serif" stroke="#000" stroke-width="0.3">Intel</text>
<rect x="809.3" y="666.8" width="7.5" height="6" fill="#c0504d"/>
<text x="820.2" y="674.2" font-size="10.5" font-family="Liberation Sans, sans-serif" stroke="#000" stroke-width="0.3">Emulex</text>
<rect x="809.3" y="688.4" width="7.5" height="6" fill="#9bbb59"/>
<text x="820.2" y="695.8" font-size="10.5" font-family="Liberation Sans, sans-serif" stroke="#000" stroke-width="0.3">QLogic</text>
<line x1="466.5" y1="884.5" x2="866.5" y2="884.5" stroke="#b0b0b0"/><line x1="466.5" y1="884.5" x2="466.5" y2="1136.5" stroke="#b0b0b0"/><line x1="866.5" y1="884.5" x2="866.5" y2="1136.5" stroke="#e4e4e4"/><line x1="466.5" y1="1136.5" x2="867" y2="1136.5" stroke="#b0b0b0"/>
<line x1="529.2" y1="1080.01" x2="791.6" y2="1080.01" stroke="#c4c4c4" stroke-width="1" stroke-dasharray="3 1.2"/>
<line x1="529.2" y1="1063.92" x2="791.6" y2="1063.92" stroke="#c4c4c4" stroke-width="1" stroke-dasharray="3 1.2"/>
<line x1="529.2" y1="1047.83" x2="791.6" y2="1047.83" stroke="#c4c4c4" stroke-width="1" stroke-dasharray="3 1.2"/>
<line x1="529.2" y1="1031.74" x2="791.6" y2="1031.74" stroke="#c4c4c4" stroke-width="1" stroke-dasharray="3 1.2"/>
<line x1="529.2" y1="1015.65" x2="791.6" y2="1015.65" stroke="#c4c4c4" stroke-width="1" stroke-dasharray="3 1.2"/>
<line x1="529.2" y1="999.56" x2="791.6" y2="999.56" stroke="#c4c4c4" stroke-width="1" stroke-dasharray="3 1.2"/>
<line x1="529.2" y1="983.47" x2="791.6" y2="983.47" stroke="#c4c4c4" stroke-width="1" stroke-dasharray="3 1.2"/>
<line x1="529.2" y1="967.38" x2="791.6" y2="967.38" stroke="#c4c4c4" stroke-width="1" stroke-dasharray="3 1.2"/>
<line x1="529.2" y1="951.29" x2="791.6" y2="951.29" stroke="#c4c4c4" stroke-width="1" stroke-dasharray="3 1.2"/>
<rect x="540" y="1064.56" width="14.9" height="31.54" fill="#4f81bd"/>
<rect x="554.4" y="1071.96" width="14.9" height="24.13" fill="#c0504d"/>
<rect x="568.8" y="1071.96" width="14.9" height="24.13" fill="#9bbb59"/>
<rect x="605.6" y="1056.68" width="14.9" height="39.42" fill="#4f81bd"/>
<rect x="620" y="1063.92" width="14.9" height="32.18" fill="#c0504d"/>
<rect x="634.4" y="1062.95" width="14.9" height="33.15" fill="#9bbb59"/>
<rect x="671.2" y="1048.96" width="14.9" height="47.14" fill="#4f81bd"/>
<rect x="685.6" y="1058.45" width="14.9" height="37.65" fill="#c0504d"/>
<rect x="700" y="1056.68" width="14.9" height="39.42" fill="#9bbb59"/>
<rect x="736.8" y="1047.51" width="14.9" height="48.59" fill="#4f81bd"/>
<rect x="751.2" y="1054.11" width="14.9" height="41.99" fill="#c0504d"/>
<rect x="765.6" y="1060.06" width="14.9" height="36.04" fill="#9bbb59"/>
<line x1="525.2" y1="1096.4" x2="791.6" y2="1096.4" stroke="#b4b4b4" stroke-width="1.5"/>
<line x1="529.2" y1="935.2" x2="529.2" y2="1099.1" stroke="#9c9c9c" stroke-width="1"/>
<line x1="525.2" y1="1096.1" x2="529.2" y2="1096.1" stroke="#868686" stroke-width="1"/>
<text x="518" y="1100.7" text-anchor="end" font-size="10.2" font-family="Liberation Sans, sans-serif" stroke="#000" stroke-width="0.3">0</text>
<line x1="525.2" y1="1080.01" x2="529.2" y2="1080.01" stroke="#868686" stroke-width="1"/>
<text x="518" y="1084.61" text-anchor="end" font-size="10.2" font-family="Liberation Sans, sans-serif" stroke="#000" stroke-width="0.3">1</text>
<line x1="525.2" y1="1063.92" x2="529.2" y2="1063.92" stroke="#868686" stroke-width="1"/>
<text x="518" y="1068.52" text-anchor="end" font-size="10.2" font-family="Liberation Sans, sans-serif" stroke="#000" stroke-width="0.3">2</text>
<line x1="525.2" y1="1047.83" x2="529.2" y2="1047.83" stroke="#868686" stroke-width="1"/>
<text x="518" y="1052.43" text-anchor="end" font-size="10.2" font-family="Liberation Sans, sans-serif" stroke="#000" stroke-width="0.3">3</text>
<line x1="525.2" y1="1031.74" x2="529.2" y2="1031.74" stroke="#868686" stroke-width="1"/>
<text x="518" y="1036.34" text-anchor="end" font-size="10.2" font-family="Liberation Sans, sans-serif" stroke="#000" stroke-width="0.3">4</text>
<line x1="525.2" y1="1015.65" x2="529.2" y2="1015.65" stroke="#868686" stroke-width="1"/>
<text x="518" y="1020.25" text-anchor="end" font-size="10.2" font-family="Liberation Sans, sans-serif" stroke="#000" stroke-width="0.3">5</text>
<line x1="525.2" y1="999.56" x2="529.2" y2="999.56" stroke="#868686" stroke-width="1"/>
<text x="518" y="1004.16" text-anchor="end" font-size="10.2" font-family="Liberation Sans, sans-serif" stroke="#000" stroke-width="0.3">6</text>
<line x1="525.2" y1="983.47" x2="529.2" y2="983.47" stroke="#868686" stroke-width="1"/>
<text x="518" y="988.07" text-anchor="end" font-size="10.2" font-family="Liberation Sans, sans-serif" stroke="#000" stroke-width="0.3">7</text>
<line x1="525.2" y1="967.38" x2="529.2" y2="967.38" stroke="#868686" stroke-width="1"/>
<text x="518" y="971.98" text-anchor="end" font-size="10.2" font-family="Liberation Sans, sans-serif" stroke="#000" stroke-width="0.3">8</text>
<line x1="525.2" y1="951.29" x2="529.2" y2="951.29" stroke="#868686" stroke-width="1"/>
<text x="518" y="955.89" text-anchor="end" font-size="10.2" font-family="Liberation Sans, sans-serif" stroke="#000" stroke-width="0.3">9</text>
<line x1="525.2" y1="935.2" x2="529.2" y2="935.2" stroke="#868686" stroke-width="1"/>
<text x="518" y="939.8" text-anchor="end" font-size="10.2" font-family="Liberation Sans, sans-serif" stroke="#000" stroke-width="0.3">10</text>
<line x1="529.2" y1="1096.1" x2="529.2" y2="1100.1" stroke="#868686" stroke-width="1"/>
<line x1="594.8" y1="1096.1" x2="594.8" y2="1100.1" stroke="#868686" stroke-width="1"/>
<line x1="660.4" y1="1096.1" x2="660.4" y2="1100.1" stroke="#868686" stroke-width="1"/>
<line x1="726" y1="1096.1" x2="726" y2="1100.1" stroke="#868686" stroke-width="1"/>
<line x1="791.6" y1="1096.1" x2="791.6" y2="1100.1" stroke="#868686" stroke-width="1"/>
<text x="562" y="1119.7" text-anchor="middle" font-size="10.5" font-family="Liberation Sans, sans-serif" stroke="#000" stroke-width="0.3" textLength="55" lengthAdjust="spacingAndGlyphs">threads=16</text>
<text x="627.6" y="1119.7" text-anchor="middle" font-size="10.5" font-family="Liberation Sans, sans-serif" stroke="#000" stroke-width="0.3" textLength="55" lengthAdjust="spacingAndGlyphs">threads=32</text>
<text x="693.2" y="1119.7" text-anchor="middle" font-size="10.5" font-family="Liberation Sans, sans-serif" stroke="#000" stroke-width="0.3" textLength="55" lengthAdjust="spacingAndGlyphs">threads=48</text>
<text x="758.8" y="1119.7" text-anchor="middle" font-size="10.5" font-family="Liberation Sans, sans-serif" stroke="#000" stroke-width="0.3" textLength="55" lengthAdjust="spacingAndGlyphs">threads=64</text>
<rect x="529.2" y="934.3" width="265.4" height="3.2" fill="#000099"/>
<text x="804.3" y="939.7" font-size="11" font-weight="bold" fill="#000099" font-family="Liberation Sans, sans-serif" textLength="55" lengthAdjust="spacingAndGlyphs">10% CPU</text>
<text x="561.2" y="913.9" font-size="18" font-weight="bold" font-family="Liberation Sans, sans-serif" stroke="#000" stroke-width="0.45" textLength="209.5" lengthAdjust="spacingAndGlyphs">Average CPU Utilization</text>
<text transform="translate(493.7,1016.5) rotate(-90)" text-anchor="middle" font-size="12.5" font-weight="bold" font-family="Liberation Sans, sans-serif" stroke="#000" stroke-width="0.3" textLength="33.8" lengthAdjust="spacingAndGlyphs">% CPU</text>
<rect x="810.1" y="1003.6" width="7.5" height="6" fill="#4f81bd"/>
<text x="821" y="1011" font-size="10.5" font-family="Liberation Sans, sans-serif" stroke="#000" stroke-width="0.3">Intel</text>
<rect x="810.1" y="1025.2" width="7.5" height="6" fill="#c0504d"/>
<text x="821" y="1032.6" font-size="10.5" font-family="Liberation Sans, sans-serif" stroke="#000" stroke-width="0.3">Emulex</text>
<rect x="810.1" y="1046.8" width="7.5" height="6" fill="#9bbb59"/>
<text x="821" y="1054.2" font-size="10.5" font-family="Liberation Sans, sans-serif" stroke="#000" stroke-width="0.3">QLogic</text>
<rect x="75" y="136.7" width="326" height="1.4" fill="#000"/>
<rect x="75" y="494.8" width="302" height="1.4" fill="#000"/>
<rect x="75" y="852.9" width="307" height="1.4" fill="#000"/>
</svg>
<div id="foot"></div><div id="foot2"></div>
</body></html>
